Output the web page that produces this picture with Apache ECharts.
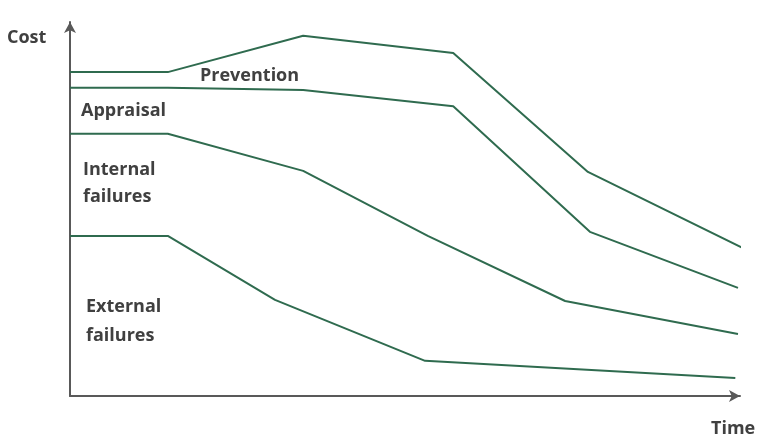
<!DOCTYPE html>
<html>
<head>
<meta charset="UTF-8">
<title>Cost of quality over time</title>
<script src="https://cdn.jsdelivr.net/npm/echarts@6/dist/echarts.min.js"></script>
<style>
  html, body { margin: 0; padding: 0; background: #fff; }
  #chart { width: 770px; height: 442px; }
</style>
</head>
<body>
<div id="chart"></div>
<script>
// boundaries of the stacked cost bands, [time, cost] on a 0-100 scale
var preventionTop = [[0, 86.6], [14.6, 86.6], [34.8, 96.3], [57.2, 91.7], [77.3, 59.9], [100.4, 39.6]];
var appraisalTop  = [[0, 82.4], [14.6, 82.4], [34.8, 81.8], [57.2, 77.5], [77.6, 43.9], [99.7, 28.9]];
var internalTop   = [[0, 70.1], [14.6, 70.1], [34.8, 60.2], [53.4, 42.8], [73.9, 25.4], [99.7, 16.6]];
var externalTop   = [[0, 42.8], [14.6, 42.8], [30.6, 25.7], [53.0, 9.4], [99.3, 4.8]];

var lineColor = '#2f6b4f';
var textColor = '#404040';
var font = '"Open Sans", sans-serif';

function band(data) {
  return {
    type: 'line',
    data: data,
    symbol: 'none',
    clip: false,
    lineStyle: { color: lineColor, width: 2 }
  };
}

// x = left edge, y = vertical centre of the word
function label(text, x, y) {
  return {
    type: 'text',
    x: x,
    y: y,
    style: { text: text, fill: textColor, font: 'bold 18px ' + font, align: 'left', verticalAlign: 'middle' }
  };
}

var chart = echarts.init(document.getElementById('chart'));
chart.setOption({
  animation: false,
  grid: { left: 70, right: 30, top: 22, bottom: 46 },
  xAxis: {
    type: 'value', min: 0, max: 100,
    axisLine: { lineStyle: { color: '#595959', width: 2 }, symbol: ['none', 'arrow'], symbolSize: [9, 11] },
    axisTick: { show: false }, axisLabel: { show: false }, splitLine: { show: false }
  },
  yAxis: {
    type: 'value', min: 0, max: 100,
    axisLine: { show: true, lineStyle: { color: '#595959', width: 2 }, symbol: ['none', 'arrow'], symbolSize: [9, 11] },
    axisTick: { show: false }, axisLabel: { show: false }, splitLine: { show: false }
  },
  series: [band(preventionTop), band(appraisalTop), band(internalTop), band(externalTop)],
  graphic: [
    label('Cost', 7, 38),
    label('Prevention', 200, 76),
    label('Appraisal', 81, 111),
    label('Internal', 83, 170),
    label('failures', 83, 197),
    label('External', 86, 307),
    label('failures', 86, 336),
    label('Time', 711, 429)
  ]
});
</script>
</body>
</html>
